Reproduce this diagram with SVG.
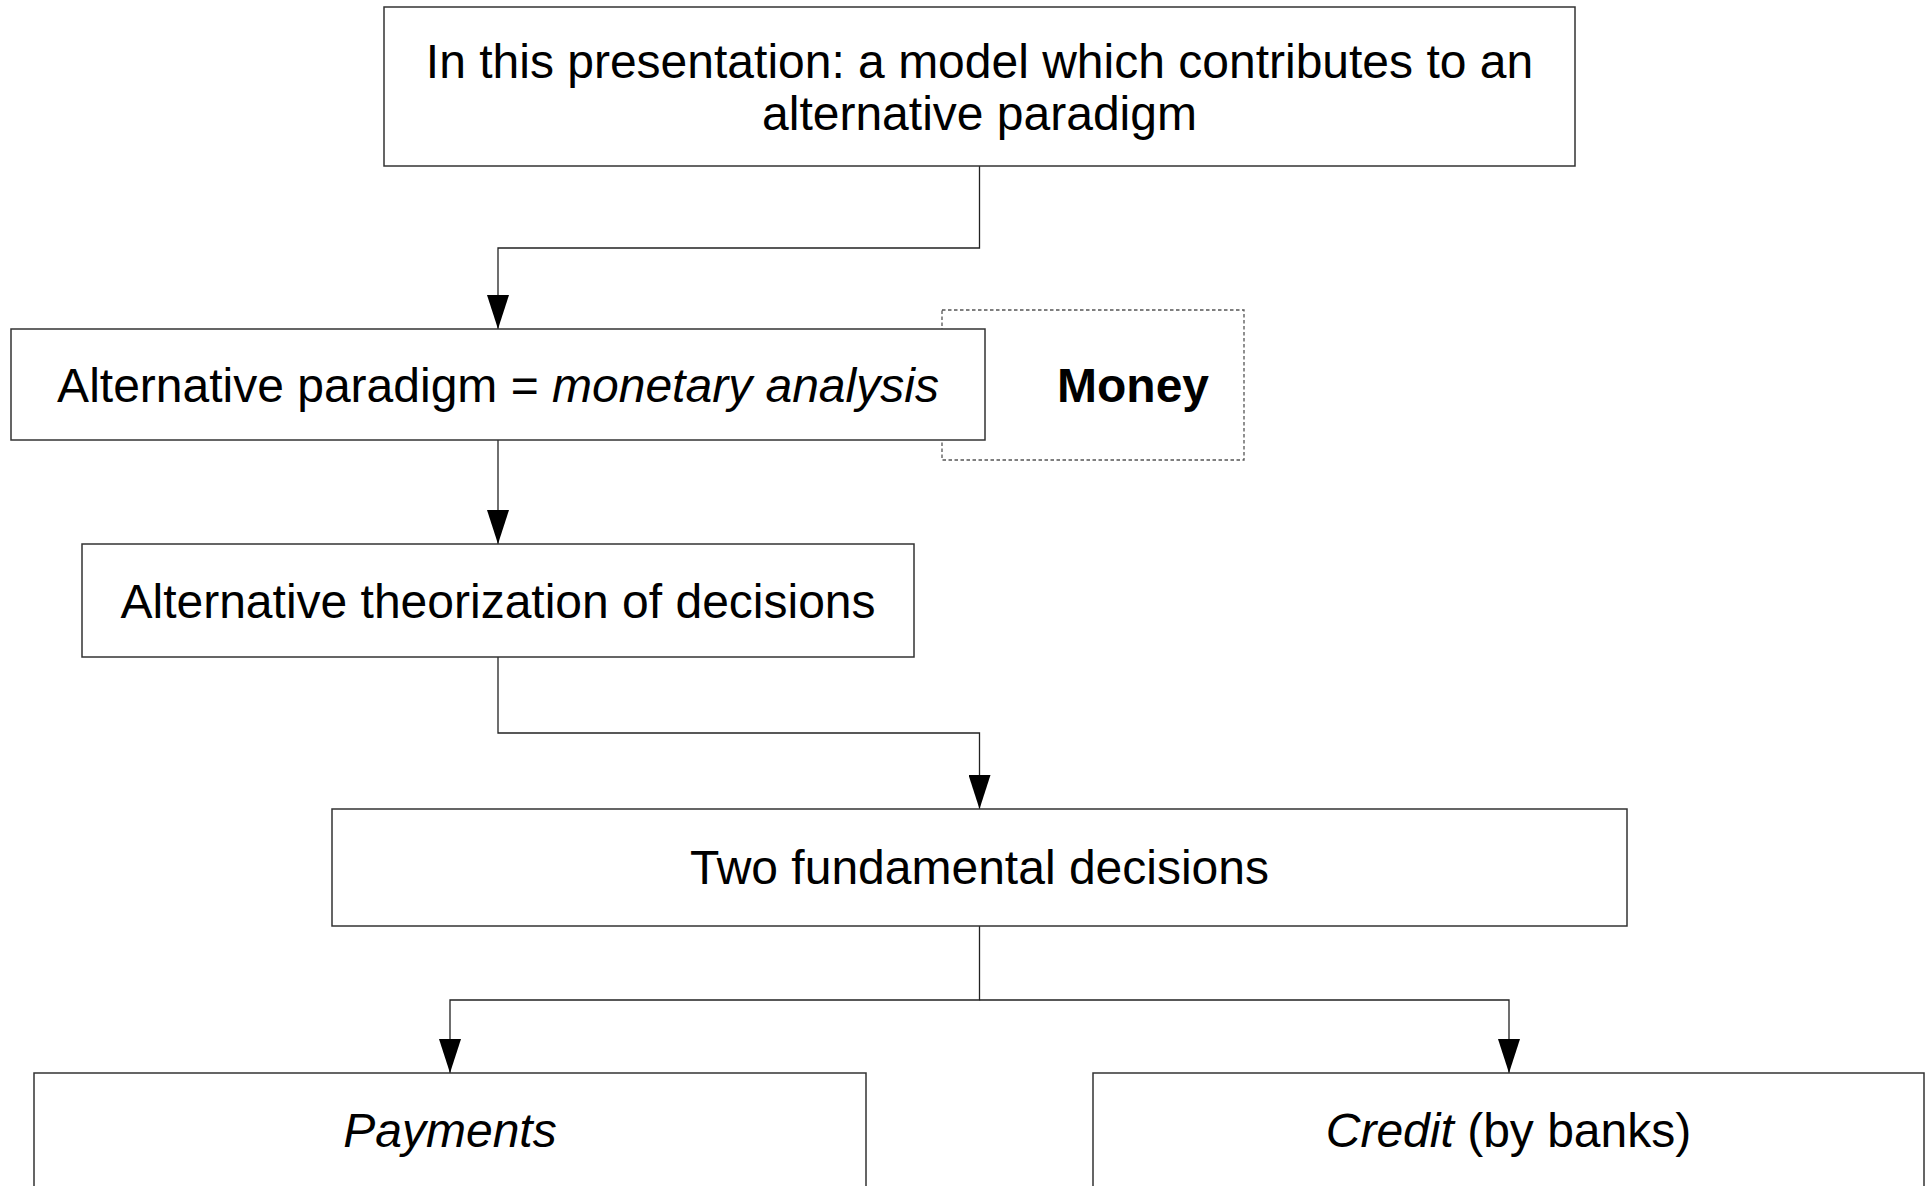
<svg xmlns="http://www.w3.org/2000/svg" width="1931" height="1186" viewBox="0 0 1931 1186">
  <style>
    .box { fill: #ffffff; stroke: #333333; stroke-width: 1.5; }
    .dashed { fill: none; stroke: #555555; stroke-width: 1.3; stroke-dasharray: 3.5 2.5; }
    .label { font-family: "Liberation Sans", Arial, sans-serif; font-size: 48px; fill: #000000; }
    .mid { text-anchor: middle; }
    .em { font-style: italic; }
    .strong { font-weight: bold; }
    .wire { fill: none; stroke: #222222; stroke-width: 1.3; }
  </style>
  <defs>
    <marker id="arrow" markerUnits="userSpaceOnUse" markerWidth="34" markerHeight="22" viewBox="0 0 34 22" refX="34" refY="11" orient="auto">
      <path d="M0,0 L34,11 L0,22 z" fill="#000000"/>
    </marker>
  </defs>

  <rect width="1931" height="1186" fill="#ffffff"/>

  <!-- connectors -->
  <g id="connectors">
    <polyline class="wire" points="979.5,166 979.5,248 498,248 498,329" marker-end="url(#arrow)"/>
    <polyline class="wire" points="498,440 498,544" marker-end="url(#arrow)"/>
    <polyline class="wire" points="498,657 498,733 979.5,733 979.5,809" marker-end="url(#arrow)"/>
    <polyline class="wire" points="979.5,926 979.5,1000 450,1000 450,1073" marker-end="url(#arrow)"/>
    <polyline class="wire" points="979.5,1000 1509,1000 1509,1073" marker-end="url(#arrow)"/>
  </g>

  <!-- nodes -->
  <g id="intro">
    <rect class="box" x="384" y="7" width="1191" height="159"/>
    <text class="label mid" x="979.5" y="78">In this presentation: a model which contributes to an</text>
    <text class="label mid" x="979.5" y="130">alternative paradigm</text>
  </g>

  <g id="money">
    <rect class="dashed" x="942" y="310" width="302" height="150"/>
    <text class="label strong" x="1057" y="402">Money</text>
  </g>

  <g id="paradigm">
    <rect class="box" x="11" y="329" width="974" height="111"/>
    <text class="label mid" x="498" y="402">Alternative paradigm = <tspan class="em">monetary analysis</tspan></text>
  </g>

  <g id="theorization">
    <rect class="box" x="82" y="544" width="832" height="113"/>
    <text class="label mid" x="498" y="618">Alternative theorization of decisions</text>
  </g>

  <g id="decisions">
    <rect class="box" x="332" y="809" width="1295" height="117"/>
    <text class="label mid" x="979.5" y="884">Two fundamental decisions</text>
  </g>

  <g id="payments">
    <rect class="box" x="34" y="1073" width="832" height="140"/>
    <text class="label mid em" x="450" y="1147">Payments</text>
  </g>

  <g id="credit">
    <rect class="box" x="1093" y="1073" width="831" height="140"/>
    <text class="label mid" x="1508.5" y="1147"><tspan class="em">Credit</tspan> (by banks)</text>
  </g>
</svg>
